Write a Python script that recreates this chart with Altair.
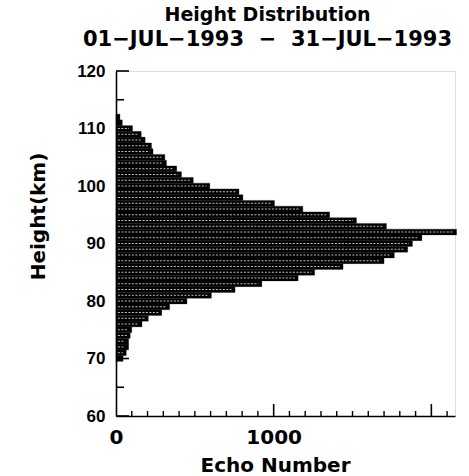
import altair as alt
import pandas as pd

# Echo counts per 1-km height bin (bin centres in km)
heights = list(range(70, 113))
echoes = [
    45, 65, 80, 80, 90, 100, 165, 205, 290, 340,      # 70-79
    450, 605, 755, 925, 1155, 1260, 1440, 1700, 1765, 1850,  # 80-89
    1880, 1940, 2160, 1715, 1525, 1355, 1185, 1005, 805, 780,  # 90-99
    595, 490, 415, 385, 320, 310, 235, 225, 185, 160,   # 100-109
    105, 40, 25,                                        # 110-112
]

y_labels = [60, 70, 80, 90, 100, 110, 120]
y_minor = [65, 75, 85, 95, 105, 115]
x_labels = [0, 1000]
x_major = [1000, 2000]
x_minor = [v for v in range(100, 2200, 100) if v % 1000 != 0]

W, H = 339, 345
X_MAX = 2150

df = pd.DataFrame({"height": heights, "echo": echoes})

xs = alt.Scale(domain=[0, X_MAX], nice=False, zero=True)
ys = alt.Scale(domain=[60, 120], nice=False, zero=False)

x_axis = alt.Axis(
    values=x_labels, format="d", ticks=False, grid=False, domainColor="black", domainWidth=1.6,
    labelFont="DejaVu Sans", labelFontWeight="bold", labelFontSize=20, labelColor="black",
    labelPadding=11, labelFlush=False,
    title="Echo Number", titleFont="DejaVu Sans", titleFontWeight="bold", titleFontSize=20,
    titleColor="black", titleX=159, titleY=55, titleAlign="center", titleBaseline="alphabetic",
)
y_axis = alt.Axis(
    values=y_labels, format="d", ticks=False, grid=False, domainColor="black", domainWidth=1.6,
    labelFont="Liberation Sans", labelFontWeight="bold", labelFontSize=17, labelColor="black",
    labelPadding=11, labelFlush=False,
    title="Height(km)", titleFont="DejaVu Sans", titleFontWeight="bold", titleFontSize=20,
    titleColor="black", titleX=-78, titleY=145, titleAngle=270, titleAlign="center",
    titleBaseline="middle",
)

base = alt.Chart(df)

bars = base.transform_calculate(
    lo="datum.height - 0.5", hi="datum.height + 0.5"
).mark_bar(color="black", stroke="black", strokeWidth=0.3).encode(
    x=alt.X("echo:Q", scale=xs, axis=x_axis),
    x2=alt.datum(0),
    y=alt.Y("lo:Q", scale=ys, axis=y_axis),
    y2="hi:Q",
)

# speckled light stripe running along the middle of each bar
stripes = base.transform_filter("datum.echo > 60").transform_calculate(
    s="12", e="datum.echo - 22"
).mark_rule(color="white", strokeWidth=1.1, strokeDash=[2, 1.5], opacity=0.75).encode(
    x=alt.X("s:Q", scale=xs), x2="e:Q", y=alt.Y("height:Q", scale=ys)
)

ymaj = alt.Chart(pd.DataFrame({"v": y_labels})).mark_rule(color="black", strokeWidth=1.6).encode(
    y=alt.Y("v:Q", scale=ys), x=alt.value(0), x2=alt.value(13)
)
ymin = alt.Chart(pd.DataFrame({"v": y_minor})).mark_rule(color="black", strokeWidth=1.6).encode(
    y=alt.Y("v:Q", scale=ys), x=alt.value(0), x2=alt.value(8)
)
xmaj = alt.Chart(pd.DataFrame({"v": x_major})).mark_rule(color="black", strokeWidth=1.6).encode(
    x=alt.X("v:Q", scale=xs), y=alt.value(H), y2=alt.value(H - 12)
)
xmin = alt.Chart(pd.DataFrame({"v": x_minor})).mark_rule(color="black", strokeWidth=1.4).encode(
    x=alt.X("v:Q", scale=xs), y=alt.value(H), y2=alt.value(H - 5)
)

chart = alt.layer(ymaj, ymin, xmaj, xmin, bars, stripes).properties(
    width=W, height=H,
    autosize=alt.AutoSizeParams(type="none"),
    padding={"left": 116, "top": 71, "right": 14, "bottom": 60},
    title=alt.TitleParams(
        text="Height Distribution",
        subtitle="01\u2212JUL\u22121993\u00a0\u00a0\u2212\u00a0\u00a031\u2212JUL\u22121993",
        anchor="middle", frame="group", dx=-18, offset=12,
        font="DejaVu Sans", fontWeight="bold", fontSize=19, color="black",
        subtitleFont="DejaVu Sans", subtitleFontWeight="bold", subtitleFontSize=21,
        subtitleColor="black", subtitlePadding=4,
    ),
).configure_view(stroke=None).configure(background="white")

chart.save("out.html", embed_options={"renderer": "svg", "actions": False})
